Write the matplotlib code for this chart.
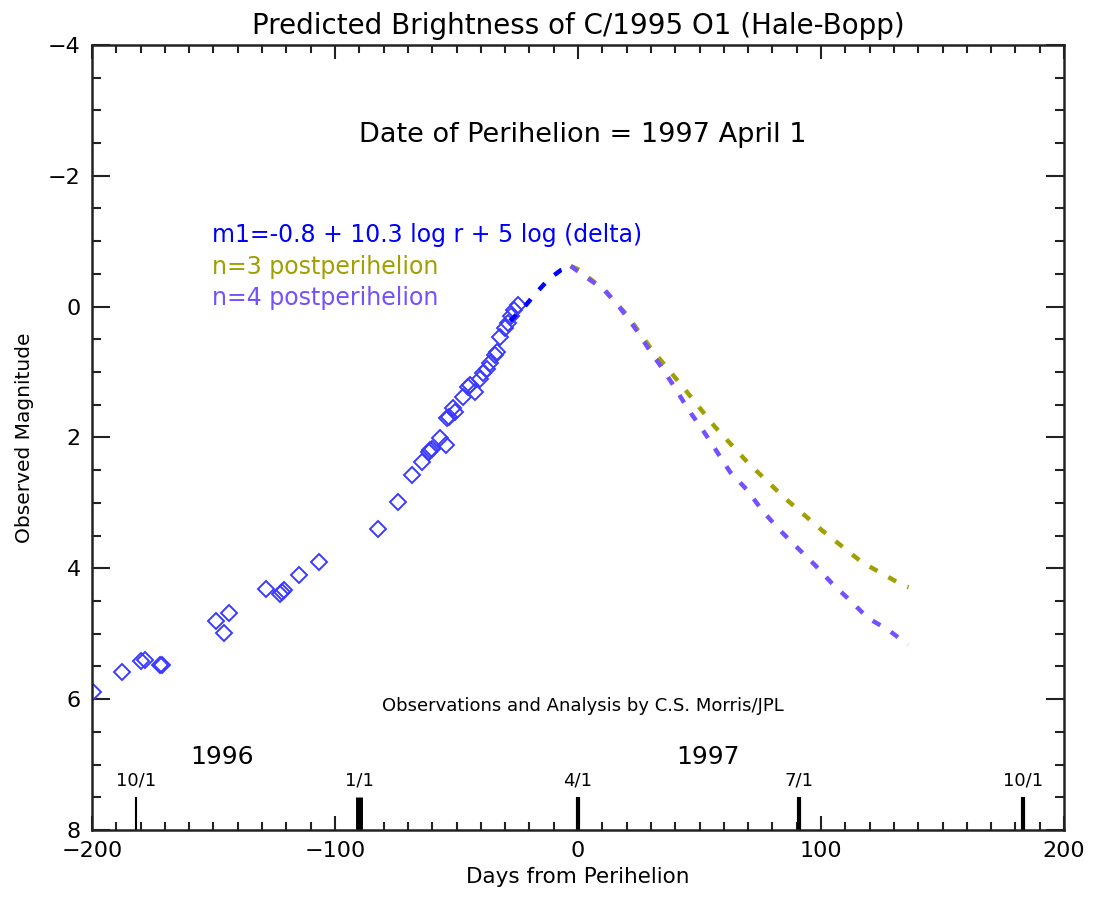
import numpy as np
import matplotlib
matplotlib.use('Agg')
import matplotlib.pyplot as plt
from matplotlib.ticker import MultipleLocator

# observed magnitudes (days from perihelion, magnitude)
obs_days = [-199.6, -187.7, -180.0, -178.0, -172.0, -171.0, -149.0, -145.7, -143.6,
            -128.4, -122.5, -121.8, -121.0, -114.8, -106.6, -82.3, -74.1, -68.3,
            -64.2, -61.5, -60.9, -60.2, -56.8, -54.3, -53.8, -53.2, -51.4, -50.6,
            -47.3, -45.3, -44.4, -42.4, -40.5, -39.1, -37.5, -36.2, -34.2, -33.5,
            -32.1, -30.0, -28.8, -27.5, -26.5, -24.7]
obs_mag = [5.89, 5.59, 5.42, 5.40, 5.48, 5.48, 4.81, 4.99, 4.69,
           4.32, 4.40, 4.37, 4.33, 4.10, 3.91, 3.40, 2.99, 2.57,
           2.38, 2.22, 2.19, 2.17, 2.01, 2.12, 1.70, 1.68, 1.55, 1.61,
           1.38, 1.23, 1.20, 1.31, 1.10, 1.02, 0.95, 0.86, 0.74, 0.70,
           0.46, 0.33, 0.25, 0.15, 0.05, -0.02]

# model m1 = -0.8 + 10.3 log r + 5 log delta (pre-perihelion)
pre_days = [-28, -22, -17, -12, -7, -3]
pre_mag = [0.22, 0.0, -0.22, -0.42, -0.56, -0.62]

# postperihelion predictions
n3_days = [-3, 0, 10, 20, 29.6, 43.2, 56.4, 70.0, 85.2, 100.4, 116.9, 133.7, 136.0]
n3_mag = [-0.62, -0.57, -0.28, 0.12, 0.62, 1.23, 1.84, 2.39, 2.93, 3.42, 3.91, 4.26, 4.29]

n4_days = [-3, 2.1, 11.1, 17.3, 23.5, 28.8, 34.6, 39.9, 45.3, 51.4, 57.2, 62.6,
           69.5, 75.7, 82.3, 90.1, 97.5, 104.5, 111.9, 119.3, 127.6, 135.8]
n4_mag = [-0.62, -0.48, -0.25, 0.02, 0.33, 0.63, 0.94, 1.24, 1.57, 1.89, 2.22, 2.53,
          2.80, 3.11, 3.39, 3.68, 3.95, 4.23, 4.49, 4.76, 4.94, 5.17]

# calendar markers
date_days = [-182, -90, 0, 91, 183]
date_labels = ['10/1', '1/1', '4/1', '7/1', '10/1']
date_widths = [1.5, 5, 3, 3, 3]

fig = plt.figure(figsize=(10.99, 8.99), dpi=100)
ax = fig.add_axes([0.0837, 0.0768, 0.8845, 0.8732])

ax.plot(obs_days, obs_mag, linestyle='none', marker='D', markersize=8,
        markerfacecolor='none', markeredgecolor='#3a3aff', markeredgewidth=1.4)

ax.plot(pre_days, pre_mag, color='#0000ff', lw=3.2, dashes=(2.0, 2.8))
ax.plot(n3_days, n3_mag, color='#a0a000', lw=3.2, dashes=(2.0, 2.8))
ax.plot(n4_days, n4_mag, color='#7450ff', lw=3.2, dashes=(2.0, 2.8))

ax.vlines(date_days, 7.5, 8, colors='black', linewidths=date_widths)
for d, lab in zip(date_days, date_labels):
    ax.text(d, 7.24, lab, ha='center', va='center', fontsize=13)
ax.text(-146.5, 6.89, '1996', ha='center', va='center', fontsize=18)
ax.text(53.5, 6.89, '1997', ha='center', va='center', fontsize=18)

ax.text(2, 6.1, 'Observations and Analysis by C.S. Morris/JPL',
        ha='center', va='center', fontsize=13)
ax.text(2, -2.62, 'Date of Perihelion = 1997 April 1', ha='center', va='center', fontsize=19.5)
ax.text(-150.5, -1.1, 'm1=-0.8 + 10.3 log r + 5 log (delta)', ha='left', va='center',
        fontsize=17, color='#0000ff')
ax.text(-150.5, -0.6, 'n=3 postperihelion', ha='left', va='center',
        fontsize=17, color='#a0a000')
ax.text(-150.5, -0.13, 'n=4 postperihelion', ha='left', va='center',
        fontsize=17, color='#7450ff')

ax.set_xlim(-200, 200)
ax.set_ylim(8, -4)
ax.xaxis.set_major_locator(MultipleLocator(100))
ax.xaxis.set_minor_locator(MultipleLocator(10))
ax.yaxis.set_major_locator(MultipleLocator(2))
ax.yaxis.set_minor_locator(MultipleLocator(0.5))
ax.tick_params(which='both', direction='in', top=True, right=True, width=1.5,
               color='#222222', labelsize=16, pad=8)
ax.tick_params(axis='x', which='major', length=10)
ax.tick_params(axis='x', which='minor', length=6)
ax.tick_params(axis='y', which='major', length=13)
ax.tick_params(axis='y', which='minor', length=6.5)
ax.set_xticklabels([f'{int(v)}'.replace('-', '\u2212') for v in ax.get_xticks()])
for s in ax.spines.values():
    s.set_linewidth(1.8)
    s.set_color('#222222')

ax.set_xlabel('Days from Perihelion', fontsize=15.5, labelpad=4)
ax.set_ylabel('Observed Magnitude', fontsize=14.5, labelpad=10)
ax.set_title('Predicted Brightness of C/1995 O1 (Hale-Bopp)', fontsize=20, pad=8)

fig.savefig('out.png', dpi=100)
